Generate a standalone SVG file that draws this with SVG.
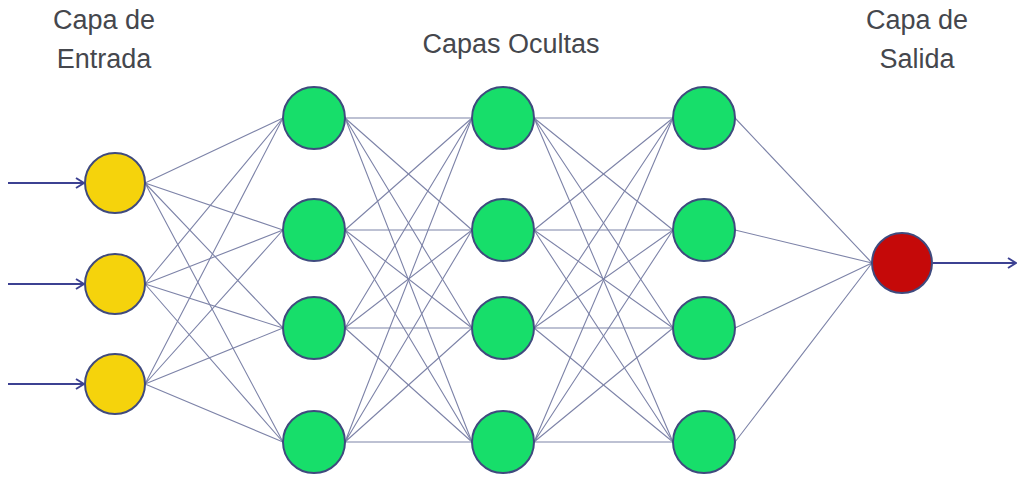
<svg xmlns="http://www.w3.org/2000/svg" width="1023" height="481" viewBox="0 0 1023 481">
<defs>
<style>
.lbl{font-family:"Liberation Sans",Arial,sans-serif;font-size:27px;fill:#45474d;text-anchor:middle}
.c{stroke:#7d83a8;stroke-width:1.1;fill:none}
.arr{stroke:#3c4192;stroke-width:2;fill:none}
.node{stroke:#3f4a7e;stroke-width:2}
.in{fill:#f5d30c}
.hid{fill:#17de6a}
.out{fill:#c50909}
</style>
<marker id="ah" viewBox="0 0 12 12" refX="11" refY="6" markerWidth="12" markerHeight="12" markerUnits="userSpaceOnUse" orient="auto">
<polyline points="3,1 11,6 3,11" fill="none" stroke="#3c4192" stroke-width="2"/>
</marker>
</defs>
<rect width="1023" height="481" fill="#ffffff"/>
<g id="labels">
<text class="lbl" x="104" y="29">Capa de</text>
<text class="lbl" x="104" y="68">Entrada</text>
<text class="lbl" x="511" y="53">Capas Ocultas</text>
<text class="lbl" x="917" y="29">Capa de</text>
<text class="lbl" x="917" y="68">Salida</text>
</g>
<g id="connectors">
<g class="c">
<path d="M145,183L283,118M145,183L283,230M145,183L283,328M145,183L283,442"/>
<path d="M145,284L283,118M145,284L283,230M145,284L283,328M145,284L283,442"/>
<path d="M145,384L283,118M145,384L283,230M145,384L283,328M145,384L283,442"/>
<path d="M345,118L472,118M345,118L472,230M345,118L472,328M345,118L472,442"/>
<path d="M345,230L472,118M345,230L472,230M345,230L472,328M345,230L472,442"/>
<path d="M345,328L472,118M345,328L472,230M345,328L472,328M345,328L472,442"/>
<path d="M345,442L472,118M345,442L472,230M345,442L472,328M345,442L472,442"/>
<path d="M534,118L673,118M534,118L673,230M534,118L673,328M534,118L673,442"/>
<path d="M534,230L673,118M534,230L673,230M534,230L673,328M534,230L673,442"/>
<path d="M534,328L673,118M534,328L673,230M534,328L673,328M534,328L673,442"/>
<path d="M534,442L673,118M534,442L673,230M534,442L673,328M534,442L673,442"/>
<path d="M735,118L872,263M735,230L872,263M735,328L872,263M735,442L872,263"/>
</g>
<line class="arr" x1="8" y1="183" x2="84" y2="183" marker-end="url(#ah)"/>
<line class="arr" x1="8" y1="284" x2="84" y2="284" marker-end="url(#ah)"/>
<line class="arr" x1="8" y1="384" x2="84" y2="384" marker-end="url(#ah)"/>
<line class="arr" x1="933" y1="263" x2="1016" y2="263" marker-end="url(#ah)"/>
</g>
<g id="input-1"><circle class="node in" cx="115" cy="183" r="30"/></g>
<g id="input-2"><circle class="node in" cx="115" cy="284" r="30"/></g>
<g id="input-3"><circle class="node in" cx="115" cy="384" r="30"/></g>
<g id="h1-1"><circle class="node hid" cx="314" cy="118" r="31"/></g>
<g id="h1-2"><circle class="node hid" cx="314" cy="230" r="31"/></g>
<g id="h1-3"><circle class="node hid" cx="314" cy="328" r="31"/></g>
<g id="h1-4"><circle class="node hid" cx="314" cy="442" r="31"/></g>
<g id="h2-1"><circle class="node hid" cx="503" cy="118" r="31"/></g>
<g id="h2-2"><circle class="node hid" cx="503" cy="230" r="31"/></g>
<g id="h2-3"><circle class="node hid" cx="503" cy="328" r="31"/></g>
<g id="h2-4"><circle class="node hid" cx="503" cy="442" r="31"/></g>
<g id="h3-1"><circle class="node hid" cx="704" cy="118" r="31"/></g>
<g id="h3-2"><circle class="node hid" cx="704" cy="230" r="31"/></g>
<g id="h3-3"><circle class="node hid" cx="704" cy="328" r="31"/></g>
<g id="h3-4"><circle class="node hid" cx="704" cy="442" r="31"/></g>
<g id="output"><circle class="node out" cx="902" cy="263" r="30"/></g>
</svg>
